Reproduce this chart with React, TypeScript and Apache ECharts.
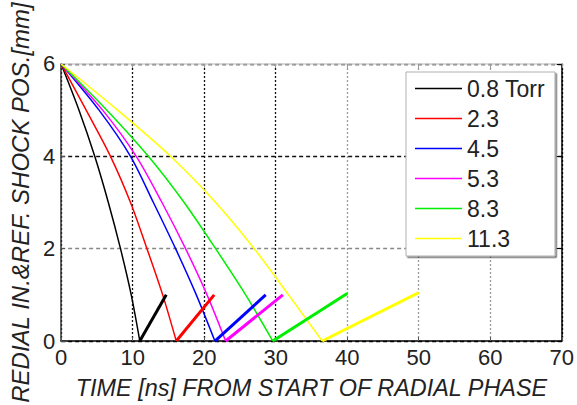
import React, { useEffect, useRef } from "react";
import * as echarts from "echarts";

// Fill pressures (legend labels)
const pressures = ["0.8 Torr", "2.3", "4.5", "5.3", "8.3", "11.3"];
const lineColors = ["#000000", "#ff0000", "#0000ff", "#ff00ff", "#00ee00", "#ffff00"];

// Inward (radial) shock trajectory: [time ns, position mm]
const inward08 = [[0, 6], [2.5, 5], [4.7, 4], [6.6, 3], [8.3, 2], [9.8, 1], [11.0, 0]];
const inward23 = [[0, 6], [3.5, 5], [6.9, 4], [9.7, 3], [12.0, 2], [14.2, 1], [16.1, 0]];
const inward45 = [[0, 6], [5.3, 5], [9.7, 4], [12.9, 3], [16.0, 2], [18.9, 1], [21.5, 0]];
const inward53 = [[0, 6], [5.8, 5], [10.5, 4], [14.1, 3], [17.4, 2], [20.4, 1], [23.0, 0]];
const inward83 = [[0, 6], [6.4, 5], [12.2, 4], [17.2, 3], [21.6, 2], [25.8, 1], [29.6, 0]];
const inward113 = [[0, 6], [7.9, 5], [15.3, 4], [21.6, 3], [27.0, 2], [31.8, 1], [36.5, 0]];

// Reflected shock trajectory: [time ns, position mm]
const reflected08 = [[11.0, 0], [14.7, 1.0]];
const reflected23 = [[16.1, 0], [21.4, 1.0]];
const reflected45 = [[21.5, 0], [28.6, 1.0]];
const reflected53 = [[23.0, 0], [31.0, 1.0]];
const reflected83 = [[29.6, 0], [40.0, 1.03]];
const reflected113 = [[36.5, 0], [50.0, 1.05]];

const inward = [inward08, inward23, inward45, inward53, inward83, inward113];
const reflected = [reflected08, reflected23, reflected45, reflected53, reflected83, reflected113];

const xTitle = "TIME [ns] FROM START OF RADIAL PHASE";
const yTitle = "REDIAL IN.&REF. SHOCK POS.[mm]";

const FONT = "Liberation Sans, Arial, sans-serif";

export default function App() {
  const ref = useRef<HTMLDivElement>(null);

  useEffect(() => {
    if (!ref.current) return;
    const chart = echarts.init(ref.current, null, { renderer: "svg" });

    const series: any[] = [];
    pressures.forEach((name, i) => {
      series.push({
        name,
        type: "line",
        data: inward[i],
        symbol: "none",
        smooth: 0.3,
        lineStyle: { color: lineColors[i], width: 1.5 },
        itemStyle: { color: lineColors[i] },
        z: 3,
      });
    });
    pressures.forEach((name, i) => {
      series.push({
        name,
        type: "line",
        data: reflected[i],
        symbol: "none",
        lineStyle: { color: lineColors[i], width: 3 },
        itemStyle: { color: lineColors[i] },
        z: 3,
      });
    });

    chart.setOption({
      animation: false,
      backgroundColor: "#ffffff",
      grid: { left: 59, right: 13, top: 62, bottom: 62, containLabel: false },
      legend: {
        data: pressures,
        orient: "vertical",
        left: 406,
        top: 72,
        padding: [5, 10, 6, 9],
        icon: "rect",
        itemWidth: 47,
        itemHeight: 1.5,
        itemGap: 7,
        backgroundColor: "#ffffff",
        borderColor: "#b0b0b0",
        borderWidth: 1,
        borderRadius: 0,
        shadowColor: "rgba(0,0,0,0.55)",
        shadowOffsetX: 1.5,
        shadowOffsetY: 1.5,
        shadowBlur: 0,
        textStyle: { fontFamily: FONT, fontSize: 23, color: "#222" },
      },
      xAxis: [
        {
          type: "value",
          min: 0,
          max: 70,
          interval: 10,
          name: xTitle,
          nameLocation: "middle",
          nameGap: 35,
          nameTextStyle: { fontFamily: FONT, fontSize: 23.4, fontStyle: "italic", color: "#222" },
          axisLine: { show: true, onZero: false, lineStyle: { color: "#000", width: 1.5 } },
          axisTick: { show: true, inside: true, length: 4, lineStyle: { color: "#555" } },
          axisLabel: { fontFamily: FONT, fontSize: 22, color: "#222", margin: 5 },
          splitLine: {
            show: true,
            lineStyle: {
              color: ["#000", "#111", "#111", "#111", "#999", "#999", "#999", "#000"],
              type: [2, 2],
              width: 1.3,
            },
          },
        },
        {
          type: "value",
          position: "top",
          min: 0,
          max: 70,
          interval: 10,
          axisLine: { show: true, onZero: false, lineStyle: { color: "#cfcfcf", width: 1.5 } },
          axisTick: { show: true, inside: true, length: 4, lineStyle: { color: "#999" } },
          axisLabel: { show: false },
          splitLine: { show: false },
        },
      ],
      yAxis: [
        {
          type: "value",
          min: 0,
          max: 6,
          interval: 2,
          name: yTitle,
          nameLocation: "middle",
          nameGap: 28,
          nameRotate: 90,
          nameTextStyle: { fontFamily: FONT, fontSize: 24, fontStyle: "italic", color: "#222" },
          axisLine: { show: true, onZero: false, lineStyle: { color: "#333", width: 1.5 } },
          axisTick: { show: true, inside: true, length: 4, lineStyle: { color: "#555" } },
          axisLabel: { fontFamily: FONT, fontSize: 22, color: "#222", margin: 6 },
          splitLine: {
            show: true,
            lineStyle: {
              color: ["#000", "#888", "#111", "#000"],
              type: [4, 3],
              width: 1.3,
            },
          },
        },
        {
          type: "value",
          position: "right",
          min: 0,
          max: 6,
          interval: 2,
          axisLine: { show: true, onZero: false, lineStyle: { color: "#000", width: 1.5 } },
          axisTick: { show: true, inside: true, length: 5, lineStyle: { color: "#000" } },
          axisLabel: { show: false },
          splitLine: { show: false },
        },
      ],
      series,
    });

    return () => chart.dispose();
  }, []);

  return (
    <div
      ref={ref}
      style={{ position: "fixed", left: 0, top: 0, width: 577, height: 405 }}
    />
  );
}
